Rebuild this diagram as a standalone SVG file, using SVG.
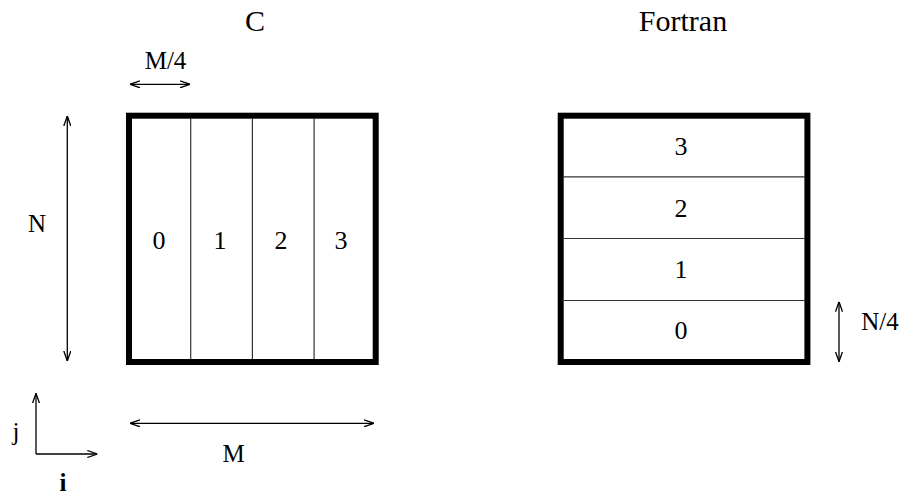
<svg xmlns="http://www.w3.org/2000/svg" width="901" height="496" viewBox="0 0 901 496" font-family="'Liberation Serif', 'DejaVu Serif', serif">
<style>
text{font-family:'Liberation Serif','DejaVu Serif',serif;fill:#000}
.t{font-size:30px;text-anchor:middle}
.l{font-size:25px;text-anchor:middle}
.d{font-size:26px;text-anchor:middle}
.box{fill:#fff;stroke:#000;stroke-width:6}
.div{stroke:#333;stroke-width:1.2}
.arr{stroke:#000;stroke-width:1.3;fill:none}
</style>
<defs>
<marker id="ah" viewBox="0 0 10 8" refX="10" refY="4" markerWidth="10" markerHeight="8" markerUnits="userSpaceOnUse" orient="auto-start-reverse">
<path d="M0,0.5 L10,4 L0,7.5" fill="none" stroke="#000" stroke-width="1.3"/>
</marker>
</defs>
<rect width="901" height="496" fill="#fff"/>
<g id="titles">
<text class="t" x="255" y="31">C</text>
<text class="t" x="683" y="31">Fortran</text>
</g>
<g id="c-array">
<rect class="box" x="129" y="115.7" width="246.7" height="246.3"/>
<line class="div" x1="190.7" y1="118" x2="190.7" y2="359"/>
<line class="div" x1="252.4" y1="118" x2="252.4" y2="359"/>
<line class="div" x1="314.1" y1="118" x2="314.1" y2="359"/>
<text class="d" x="159" y="248.5">0</text>
<text class="d" x="220" y="248.5">1</text>
<text class="d" x="281" y="248.5">2</text>
<text class="d" x="341" y="248.5">3</text>
</g>
<g id="fortran-array">
<rect class="box" x="560.7" y="115.7" width="246.7" height="246.3"/>
<line class="div" x1="563" y1="176.9" x2="805" y2="176.9"/>
<line class="div" x1="563" y1="238.5" x2="805" y2="238.5"/>
<line class="div" x1="563" y1="300.5" x2="805" y2="300.5"/>
<text class="d" x="681" y="155">3</text>
<text class="d" x="681" y="216.7">2</text>
<text class="d" x="681" y="278.3">1</text>
<text class="d" x="681" y="339.3">0</text>
</g>
<g id="connectors">
<line class="arr" x1="130" y1="84.3" x2="190" y2="84.3" marker-start="url(#ah)" marker-end="url(#ah)"/>
<line class="arr" x1="67.3" y1="116" x2="67.3" y2="361" marker-start="url(#ah)" marker-end="url(#ah)"/>
<line class="arr" x1="130" y1="423.3" x2="374" y2="423.3" marker-start="url(#ah)" marker-end="url(#ah)"/>
<line class="arr" x1="839" y1="301.7" x2="839" y2="361.7" marker-start="url(#ah)" marker-end="url(#ah)"/>
<line class="arr" x1="36" y1="454" x2="36" y2="393.3" marker-end="url(#ah)"/>
<line class="arr" x1="36" y1="454" x2="97.3" y2="454" marker-end="url(#ah)"/>
</g>
<g id="labels">
<text class="l" x="165.5" y="69.3">M/4</text>
<text class="l" x="37" y="231.7">N</text>
<text class="l" x="233.5" y="462.3">M</text>
<text class="l" x="880" y="329.5">N/4</text>
<text class="l" x="16" y="439.5">j</text>
<text class="l" x="63" y="491" font-weight="bold">i</text>
</g>
</svg>
